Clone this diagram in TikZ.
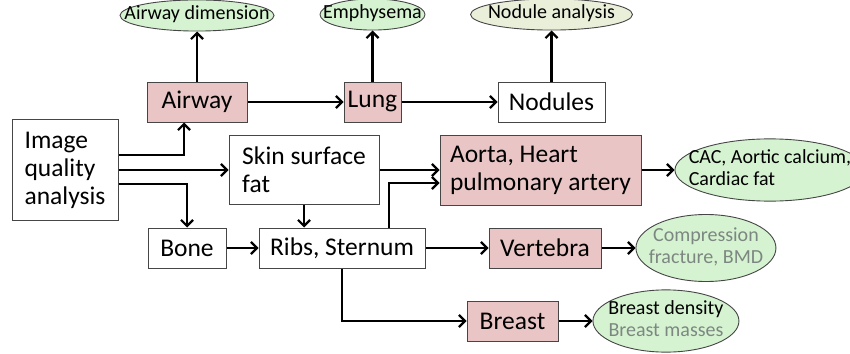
\documentclass[tikz,border=0pt]{standalone}
\usepackage{fontspec}
\setmainfont{Carlito}
\usepackage{tikz}
\usetikzlibrary{arrows.meta,shapes.geometric,positioning}

\definecolor{organpink}{RGB}{234,197,197}
\definecolor{resgreen}{RGB}{213,243,208}
\definecolor{resbeige}{RGB}{234,239,218}
\definecolor{edgegray}{RGB}{70,70,70}
\definecolor{softtext}{RGB}{125,135,130}

\newcommand{\boxfont}{\fontsize{25.5}{28}\selectfont}
\newcommand{\ovalfont}{\fontsize{20}{22}\selectfont}
% keep ellipse size from minimum width only
\newcommand{\ovaltext}[1]{\makebox[0pt]{\begin{tabular}{@{}c@{}}#1\end{tabular}}}
\newcommand{\ovaltextl}[1]{\makebox[0pt]{\begin{tabular}{@{}l@{}}#1\end{tabular}}}

\begin{document}
\begin{tikzpicture}[
  x=1pt, y=-1pt,
  box/.style={draw=edgegray, line width=1pt, fill=white, align=center, inner sep=0pt, minimum height=40pt, font=\boxfont},
  organ/.style={box, fill=organpink},
  result/.style={ellipse, draw=edgegray, line width=0.9pt, fill=resgreen, inner sep=0pt, minimum height=26pt, font=\ovalfont},
  arr/.style={-{Straight Barb[length=6pt,width=12pt]}, line width=2.2pt}
]
\useasboundingbox (0,0) rectangle (850,353);

% top row
\node[organ, minimum width=100pt] (airway) at (197,102) {Airway};
\node[organ, minimum width=57pt, right=96pt of airway] (lung) {Lung};
\node[box, minimum width=107pt, right=96pt of lung] (nodules) {Nodules};
\node[result, minimum width=154pt, above=50pt of airway] (airdim) {\ovaltext{Airway dimension}};
\node[result, minimum width=105pt, above=51pt of lung] (emph) {\ovaltext{Emphysema}};
\node[result, fill=resbeige, minimum width=162pt, above=51pt of nodules] (nodan) {\ovaltext{Nodule analysis}};

% middle row
\node[box, align=left, minimum width=106pt, minimum height=101pt] (iqa) at (65,170) {Image\\quality\\analysis};
\node[box, align=left, minimum width=150pt, minimum height=69pt, right=110pt of iqa] (skin) {Skin surface\\fat};
\node[organ, align=left, minimum width=201pt, minimum height=70pt, right=60pt of skin] (aorta) {Aorta, Heart\\pulmonary artery};
\node[result, minimum width=190pt, minimum height=62pt, right=33pt of aorta] (cac) {\ovaltextl{CAC, Aortic calcium,\\Cardiac fat}};

% lower rows
\node[box, minimum width=78pt] (bone) at (187,248) {Bone};
\node[box, minimum width=166pt, right=32pt of bone] (ribs) {Ribs, Sternum};
\node[organ, minimum width=112pt, right=63pt of ribs] (vertebra) {Vertebra};
\node[result, text=softtext, minimum width=140pt, minimum height=67pt, right=34pt of vertebra] (comp) {\ovaltext{Compression\\fracture, BMD}};
\node[organ, minimum width=91pt] (breast) at (512.5,321) {Breast};
\node[result, minimum width=146pt, minimum height=55pt, right=34pt of breast] (bdens) {\ovaltext{Breast density\\\textcolor{softtext}{Breast masses}}};

% connectors
\draw[arr] ([yshift=15pt]iqa.east) -| ([xshift=-13pt]airway.south);
\draw[arr] (iqa.east) -- (iqa.east -| skin.west);
\draw[arr] ([yshift=-14pt]iqa.east) -| (bone.north);
\draw[arr] (airway) -- (lung);
\draw[arr] (lung) -- (nodules);
\draw[arr] (airway.north) -- (airway.north |- airdim.south);
\draw[arr] (lung.north) -- (lung.north |- emph.south);
\draw[arr] (nodules.north) -- (nodules.north |- nodan.south);
\draw[arr] (skin.east) -- (skin.east -| aorta.west);
\draw[arr] (skin.south) -- (skin.south |- ribs.north);
\draw[arr] ([xshift=47pt]ribs.north) |- ([yshift=-13pt]aorta.west);
\draw[arr] (bone) -- (ribs);
\draw[arr] (ribs.east) -- (ribs.east -| vertebra.west);
\draw[arr] (ribs.south) |- (breast.west);
\draw[arr] (aorta.east) -- (aorta.east -| cac.west);
\draw[arr] (vertebra) -- (comp);
\draw[arr] (breast) -- (bdens);
\end{tikzpicture}
\end{document}
